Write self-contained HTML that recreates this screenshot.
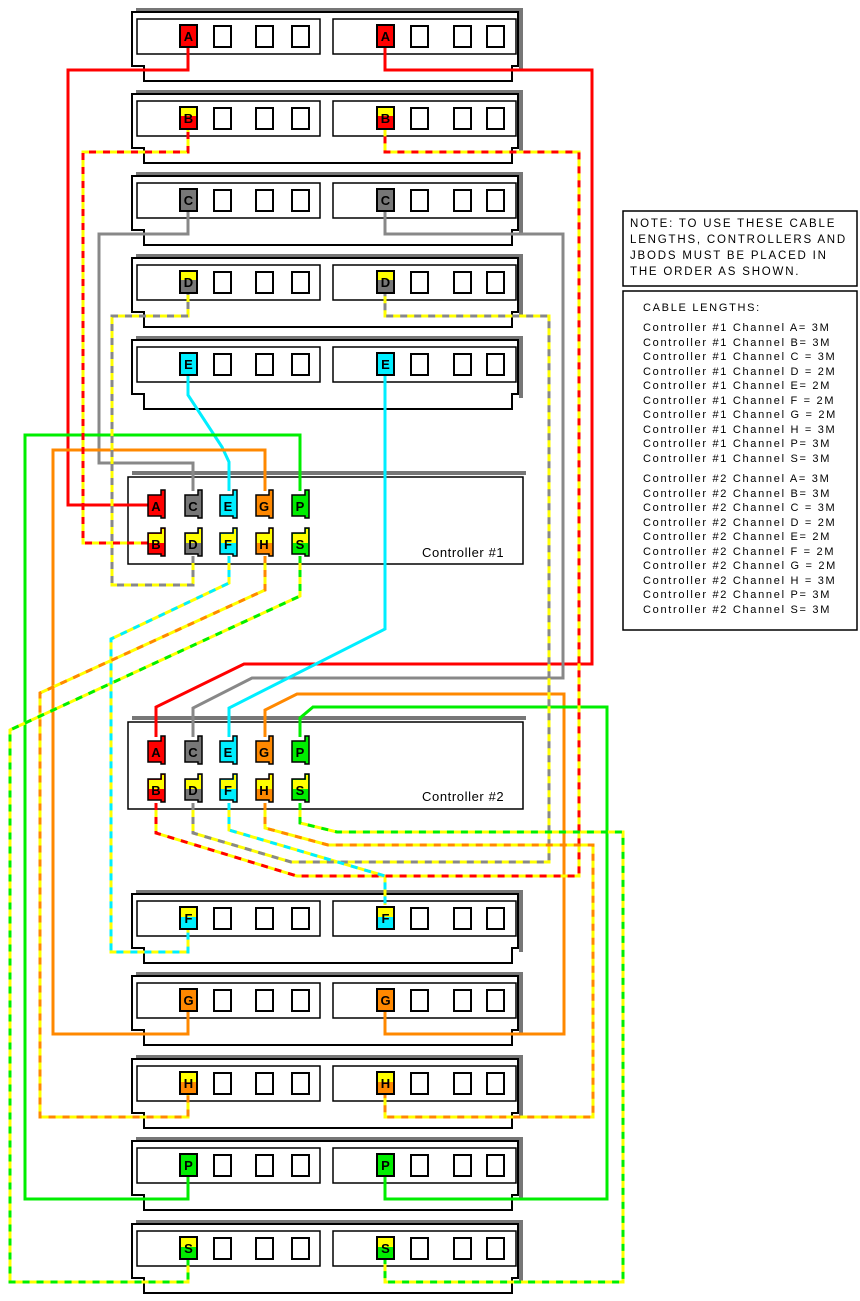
<!DOCTYPE html>
<html><head><meta charset="utf-8"><style>
html,body{margin:0;padding:0;background:#fff;}
svg{display:block;}
.t{font-family:"Liberation Sans",sans-serif;font-size:11.5px;fill:#000;}
.pl{font-family:"Liberation Sans",sans-serif;font-size:13px;font-weight:bold;fill:#000;text-anchor:middle;}
</style></head><body>
<svg width="860" height="1301" viewBox="0 0 860 1301" xmlns="http://www.w3.org/2000/svg">
<defs>
<g id="jb">
  <rect x="136" y="0" width="386" height="3" fill="#777"/>
  <rect x="519" y="0" width="4" height="62" fill="#777"/>
  <path d="M132,4 H518 V58 H512 V73 H144 V58 H132 Z" fill="#fff" stroke="#000" stroke-width="2"/>
  <rect x="137" y="11" width="183" height="35" fill="#fff" stroke="#000" stroke-width="1.5"/>
  <rect x="333" y="11" width="183" height="35" fill="#fff" stroke="#000" stroke-width="1.5"/>
  <g fill="#fff" stroke="#000" stroke-width="2">
  <rect x="214" y="18" width="17" height="21"/><rect x="256" y="18" width="17" height="21"/><rect x="292" y="18" width="17" height="21"/>
  <rect x="411" y="18" width="17" height="21"/><rect x="454" y="18" width="17" height="21"/><rect x="487" y="18" width="17" height="21"/>
  </g>
</g>
<g id="ctl">
  <rect x="132" y="0" width="394" height="4" fill="#777"/>
  <path d="M128,6 H523 V93 H128 Z" fill="#fff" stroke="#000" stroke-width="1.5"/>
</g>
</defs>

<use href="#jb" y="8"/><use href="#jb" y="90"/><use href="#jb" y="172"/><use href="#jb" y="254"/><use href="#jb" y="336"/>
<use href="#jb" y="890"/><use href="#jb" y="972"/><use href="#jb" y="1055"/><use href="#jb" y="1137"/><use href="#jb" y="1220"/>

<use href="#ctl" y="471"/>
<use href="#ctl" y="716"/>
<text class="t" x="422" y="557" style="font-size:13px;letter-spacing:0.6px">Controller #1</text>
<text class="t" x="422" y="801" style="font-size:13px;letter-spacing:0.6px">Controller #2</text>

<g fill="none" stroke-width="3" stroke-linejoin="miter">
 <polyline stroke="#f00" points="148,505 68,505 68,70 188,70 188,48"/>
 <polyline stroke="#888" points="193,491 193,463 99,463 99,234 188,234 188,212"/>
 <polyline stroke="#0ef" points="229,491 229,462 222,447 188,395 188,376"/>
 <polyline stroke="#f80" points="265,491 265,450 53,450 53,1034 188,1034 188,1012"/>
 <polyline stroke="#0e0" points="300,491 300,435 25,435 25,1199 188,1199 188,1177"/>
 <polyline stroke="#f00" points="156,737 156,707 244,664 592,664 592,70 385,70 385,48"/>
 <polyline stroke="#888" points="193,737 193,708 252,678 563,678 563,234 385,234 385,212"/>
 <polyline stroke="#0ef" points="229,737 229,708 385,629 385,376"/>
 <polyline stroke="#f80" points="265,737 265,710 297,694 564,694 564,1034 385,1034 385,1012"/>
 <polyline stroke="#0e0" points="300,737 300,718 313,707 607,707 607,1199 385,1199 385,1177"/>
</g>
<g fill="none" stroke-width="3" stroke="#ff0">
 <polyline id="cB1" points="148,543 83,543 83,152 188,152 188,130"/>
 <polyline id="cD1" points="193,556 193,585 112,585 112,316 188,316 188,294"/>
 <polyline id="cF1" points="229,556 229,583 111,639 111,952 188,952 188,930"/>
 <polyline id="cH1" points="265,556 265,590 40,693 40,1117 188,1117 188,1095"/>
 <polyline id="cS1" points="300,556 300,596 10,730 10,1282 188,1282 188,1260"/>
 <polyline id="cB2" points="156,803 156,833 297,876 579,876 579,152 385,152 385,130"/>
 <polyline id="cD2" points="193,803 193,833 291,862 549,862 549,316 385,316 385,294"/>
 <polyline id="cF2" points="229,803 229,830 385,876 385,905"/>
 <polyline id="cH2" points="265,803 265,828 328,845 593,845 593,1117 385,1117 385,1095"/>
 <polyline id="cS2" points="300,803 300,823 337,832 623,832 623,1282 385,1282 385,1260"/>
</g>
<g fill="none" stroke-width="3" stroke-dasharray="7 7">
 <use href="#cB1" stroke="#f00"/><use href="#cD1" stroke="#888"/><use href="#cF1" stroke="#0ef"/><use href="#cH1" stroke="#f80"/><use href="#cS1" stroke="#0e0"/>
 <use href="#cB2" stroke="#f00"/><use href="#cD2" stroke="#888"/><use href="#cF2" stroke="#0ef"/><use href="#cH2" stroke="#f80"/><use href="#cS2" stroke="#0e0"/>
</g>

<g stroke="#000" stroke-width="2">
 <rect x="180" y="25" width="17" height="22" fill="#f00"/><rect x="377" y="25" width="17" height="22" fill="#f00"/>
 <rect x="180" y="107" width="17" height="22" fill="#f00"/><rect x="377" y="107" width="17" height="22" fill="#f00"/>
 <rect x="180" y="189" width="17" height="22" fill="#777"/><rect x="377" y="189" width="17" height="22" fill="#777"/>
 <rect x="180" y="271" width="17" height="22" fill="#777"/><rect x="377" y="271" width="17" height="22" fill="#777"/>
 <rect x="180" y="353" width="17" height="22" fill="#0ef"/><rect x="377" y="353" width="17" height="22" fill="#0ef"/>
 <rect x="180" y="907" width="17" height="22" fill="#0ef"/><rect x="377" y="907" width="17" height="22" fill="#0ef"/>
 <rect x="180" y="989" width="17" height="22" fill="#f80"/><rect x="377" y="989" width="17" height="22" fill="#f80"/>
 <rect x="180" y="1072" width="17" height="22" fill="#f80"/><rect x="377" y="1072" width="17" height="22" fill="#f80"/>
 <rect x="180" y="1154" width="17" height="22" fill="#0e0"/><rect x="377" y="1154" width="17" height="22" fill="#0e0"/>
 <rect x="180" y="1237" width="17" height="22" fill="#0e0"/><rect x="377" y="1237" width="17" height="22" fill="#0e0"/>
</g>
<g fill="#ff0">
 <rect x="181" y="108" width="15" height="8"/><rect x="378" y="108" width="15" height="8"/>
 <rect x="181" y="272" width="15" height="8"/><rect x="378" y="272" width="15" height="8"/>
 <rect x="181" y="908" width="15" height="9"/><rect x="378" y="908" width="15" height="9"/>
 <rect x="181" y="1073" width="15" height="9"/><rect x="378" y="1073" width="15" height="9"/>
 <rect x="181" y="1238" width="15" height="9"/><rect x="378" y="1238" width="15" height="9"/>
</g>
<g>
 <text class="pl" x="188.5" y="41">A</text><text class="pl" x="385.5" y="41">A</text>
 <text class="pl" x="188.5" y="123">B</text><text class="pl" x="385.5" y="123">B</text>
 <text class="pl" x="188.5" y="205">C</text><text class="pl" x="385.5" y="205">C</text>
 <text class="pl" x="188.5" y="287">D</text><text class="pl" x="385.5" y="287">D</text>
 <text class="pl" x="188.5" y="369">E</text><text class="pl" x="385.5" y="369">E</text>
 <text class="pl" x="188.5" y="923">F</text><text class="pl" x="385.5" y="923">F</text>
 <text class="pl" x="188.5" y="1005">G</text><text class="pl" x="385.5" y="1005">G</text>
 <text class="pl" x="188.5" y="1088">H</text><text class="pl" x="385.5" y="1088">H</text>
 <text class="pl" x="188.5" y="1170">P</text><text class="pl" x="385.5" y="1170">P</text>
 <text class="pl" x="188.5" y="1253">S</text><text class="pl" x="385.5" y="1253">S</text>
</g>

<g stroke="#000" stroke-width="1.5">
 <path d="M148,495 H161 V490 H165 V518 H161 V516 H148 Z" fill="#f00"/>
 <path d="M185,495 H198 V490 H202 V518 H198 V516 H185 Z" fill="#777"/>
 <path d="M220,495 H233 V490 H237 V518 H233 V516 H220 Z" fill="#0ef"/>
 <path d="M256,495 H269 V490 H273 V518 H269 V516 H256 Z" fill="#f80"/>
 <path d="M292,495 H305 V490 H309 V518 H305 V516 H292 Z" fill="#0e0"/>
 <path d="M148,533 H161 V528 H165 V556 H161 V554 H148 Z" fill="#f00"/>
 <path d="M185,533 H198 V528 H202 V556 H198 V554 H185 Z" fill="#777"/>
 <path d="M220,533 H233 V528 H237 V556 H233 V554 H220 Z" fill="#0ef"/>
 <path d="M256,533 H269 V528 H273 V556 H269 V554 H256 Z" fill="#f80"/>
 <path d="M292,533 H305 V528 H309 V556 H305 V554 H292 Z" fill="#0e0"/>
 <path d="M148,741 H161 V736 H165 V764 H161 V762 H148 Z" fill="#f00"/>
 <path d="M185,741 H198 V736 H202 V764 H198 V762 H185 Z" fill="#777"/>
 <path d="M220,741 H233 V736 H237 V764 H233 V762 H220 Z" fill="#0ef"/>
 <path d="M256,741 H269 V736 H273 V764 H269 V762 H256 Z" fill="#f80"/>
 <path d="M292,741 H305 V736 H309 V764 H305 V762 H292 Z" fill="#0e0"/>
 <path d="M148,779 H161 V774 H165 V802 H161 V800 H148 Z" fill="#f00"/>
 <path d="M185,779 H198 V774 H202 V802 H198 V800 H185 Z" fill="#777"/>
 <path d="M220,779 H233 V774 H237 V802 H233 V800 H220 Z" fill="#0ef"/>
 <path d="M256,779 H269 V774 H273 V802 H269 V800 H256 Z" fill="#f80"/>
 <path d="M292,779 H305 V774 H309 V802 H305 V800 H292 Z" fill="#0e0"/>
</g>
<g fill="#ff0">
 <path d="M149,534 H162 V529 H164 V543 H149 Z"/><path d="M186,534 H199 V529 H201 V543 H186 Z"/>
 <path d="M221,534 H234 V529 H236 V543 H221 Z"/><path d="M257,534 H270 V529 H272 V543 H257 Z"/>
 <path d="M293,534 H306 V529 H308 V543 H293 Z"/>
 <path d="M149,780 H162 V775 H164 V789 H149 Z"/><path d="M186,780 H199 V775 H201 V789 H186 Z"/>
 <path d="M221,780 H234 V775 H236 V789 H221 Z"/><path d="M257,780 H270 V775 H272 V789 H257 Z"/>
 <path d="M293,780 H306 V775 H308 V789 H293 Z"/>
</g>
<g>
 <text class="pl" x="156" y="511">A</text><text class="pl" x="193" y="511">C</text><text class="pl" x="228" y="511">E</text><text class="pl" x="264" y="511">G</text><text class="pl" x="300" y="511">P</text>
 <text class="pl" x="156" y="549">B</text><text class="pl" x="193" y="549">D</text><text class="pl" x="228" y="549">F</text><text class="pl" x="264" y="549">H</text><text class="pl" x="300" y="549">S</text>
 <text class="pl" x="156" y="757">A</text><text class="pl" x="193" y="757">C</text><text class="pl" x="228" y="757">E</text><text class="pl" x="264" y="757">G</text><text class="pl" x="300" y="757">P</text>
 <text class="pl" x="156" y="795">B</text><text class="pl" x="193" y="795">D</text><text class="pl" x="228" y="795">F</text><text class="pl" x="264" y="795">H</text><text class="pl" x="300" y="795">S</text>
</g>

<rect x="623" y="211" width="234" height="75" fill="#fff" stroke="#000" stroke-width="1.5"/>
<g class="t" style="font-size:11.5px;letter-spacing:1.8px">
 <text x="630" y="227">NOTE: TO USE THESE CABLE</text>
 <text x="630" y="243">LENGTHS, CONTROLLERS AND</text>
 <text x="630" y="259">JBODS MUST BE PLACED IN</text>
 <text x="630" y="275">THE ORDER AS SHOWN.</text>
</g>
<rect x="623" y="291" width="234" height="339" fill="#fff" stroke="#000" stroke-width="1.5"/>
<g class="t" style="font-size:11px;letter-spacing:1.7px">
 <text x="643" y="311">CABLE LENGTHS:</text>
 <text x="643" y="331">Controller #1 Channel A= 3M</text>
 <text x="643" y="346">Controller #1 Channel B= 3M</text>
 <text x="643" y="360">Controller #1 Channel C = 3M</text>
 <text x="643" y="375">Controller #1 Channel D = 2M</text>
 <text x="643" y="389">Controller #1 Channel E= 2M</text>
 <text x="643" y="404">Controller #1 Channel F = 2M</text>
 <text x="643" y="418">Controller #1 Channel G = 2M</text>
 <text x="643" y="433">Controller #1 Channel H = 3M</text>
 <text x="643" y="447">Controller #1 Channel P= 3M</text>
 <text x="643" y="462">Controller #1 Channel S= 3M</text>
 <text x="643" y="482">Controller #2 Channel A= 3M</text>
 <text x="643" y="497">Controller #2 Channel B= 3M</text>
 <text x="643" y="511">Controller #2 Channel C = 3M</text>
 <text x="643" y="526">Controller #2 Channel D = 2M</text>
 <text x="643" y="540">Controller #2 Channel E= 2M</text>
 <text x="643" y="555">Controller #2 Channel F = 2M</text>
 <text x="643" y="569">Controller #2 Channel G = 2M</text>
 <text x="643" y="584">Controller #2 Channel H = 3M</text>
 <text x="643" y="598">Controller #2 Channel P= 3M</text>
 <text x="643" y="613">Controller #2 Channel S= 3M</text>
</g>
</svg>
</body></html>
